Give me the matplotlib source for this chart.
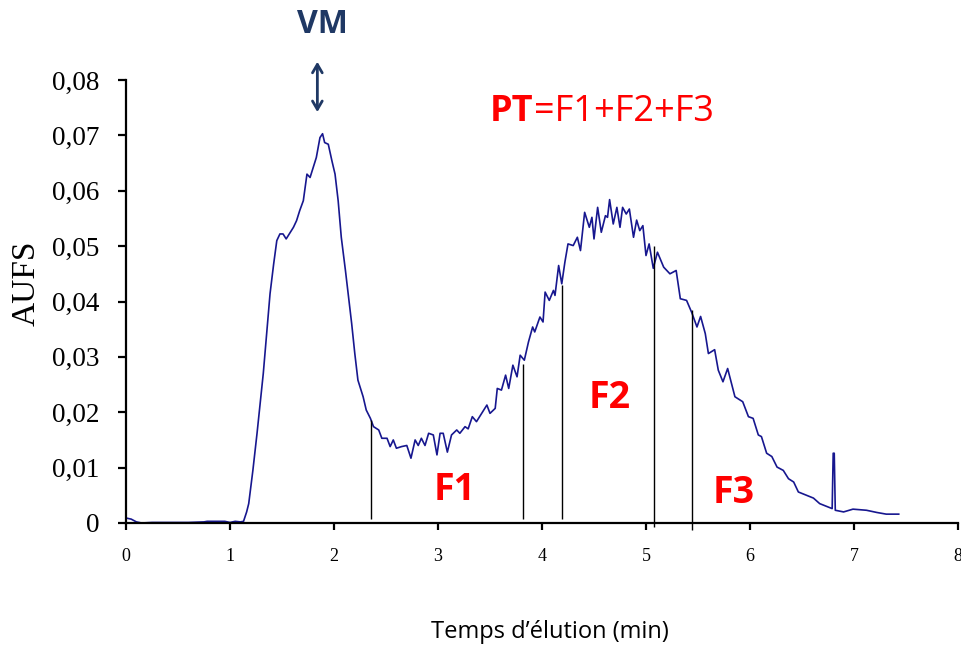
import matplotlib
matplotlib.use("Agg")
import matplotlib.pyplot as plt
from matplotlib.ticker import FixedLocator, FuncFormatter

# chromatogramme : temps (min) / absorbance (AUFS)
temps = [0.00, 0.05, 0.10, 0.15, 0.25, 0.40, 0.60, 0.75, 0.78, 0.95, 1.00, 1.05, 1.10, 1.13,
         1.16, 1.18, 1.22, 1.26, 1.29, 1.32, 1.35, 1.385, 1.42, 1.45, 1.48, 1.51, 1.54, 1.58,
         1.61, 1.64, 1.67, 1.705, 1.74, 1.77, 1.80, 1.83, 1.865, 1.89, 1.91, 1.945, 1.98, 2.01,
         2.04, 2.07, 2.11, 2.14, 2.17, 2.20, 2.23, 2.28, 2.31, 2.35, 2.38, 2.43, 2.46, 2.51,
         2.54, 2.57, 2.60, 2.65, 2.70, 2.74, 2.78, 2.81, 2.84, 2.875, 2.91, 2.955, 2.99, 3.02,
         3.05, 3.09, 3.13, 3.18, 3.21, 3.26, 3.29, 3.33, 3.37, 3.42, 3.47, 3.50, 3.55, 3.57,
         3.61, 3.65, 3.68, 3.72, 3.76, 3.79, 3.83, 3.87, 3.91, 3.93, 3.98, 4.01, 4.03, 4.07,
         4.11, 4.125, 4.16, 4.19, 4.22, 4.25, 4.30, 4.34, 4.37, 4.41, 4.455, 4.48, 4.50, 4.535,
         4.57, 4.61, 4.63, 4.65, 4.685, 4.72, 4.75, 4.775, 4.81, 4.84, 4.88, 4.91, 4.94, 4.97,
         5.00, 5.03, 5.07, 5.11, 5.17, 5.23, 5.29, 5.33, 5.39, 5.44, 5.49, 5.525, 5.57, 5.60,
         5.66, 5.695, 5.74, 5.785, 5.855, 5.93, 5.985, 6.03, 6.08, 6.11, 6.16, 6.21, 6.26, 6.32,
         6.37, 6.42, 6.465, 6.545, 6.61, 6.67, 6.75, 6.79, 6.80, 6.81, 6.82, 6.90, 6.99, 7.12,
         7.22, 7.31, 7.43]
aufs = [0.0009, 0.0007, 0.0002, 0.0000, 0.0001, 0.0001, 0.0001, 0.0002, 0.0003, 0.0003, 0.0001,
        0.0003, 0.0002, 0.0003, 0.0020, 0.0035, 0.0095, 0.0162, 0.0216, 0.0270, 0.0336, 0.0414,
        0.0468, 0.0510, 0.0522, 0.0522, 0.0513, 0.0525, 0.0534, 0.0546, 0.0564, 0.0582, 0.0630,
        0.0624, 0.0642, 0.0660, 0.0696, 0.0703, 0.0687, 0.0684, 0.0654, 0.0630, 0.0582, 0.0516,
        0.0456, 0.0408, 0.0360, 0.0306, 0.0258, 0.0228, 0.0204, 0.0189, 0.0174, 0.0168, 0.0153,
        0.0153, 0.0138, 0.0150, 0.0135, 0.0138, 0.0140, 0.0117, 0.0150, 0.0140, 0.0153, 0.0140,
        0.0162, 0.0159, 0.0123, 0.0162, 0.0162, 0.0128, 0.0159, 0.0168, 0.0162, 0.0174, 0.0170,
        0.0192, 0.0183, 0.0198, 0.0213, 0.0198, 0.0207, 0.0243, 0.0240, 0.0267, 0.0243, 0.0285,
        0.0264, 0.0303, 0.0294, 0.0327, 0.0354, 0.0345, 0.0372, 0.0363, 0.0417, 0.0402, 0.0420,
        0.0411, 0.0465, 0.0432, 0.0471, 0.0504, 0.0501, 0.0516, 0.0492, 0.0561, 0.0534, 0.0552,
        0.0513, 0.0570, 0.0525, 0.0555, 0.0552, 0.0584, 0.0540, 0.0570, 0.0534, 0.0570, 0.0558,
        0.0567, 0.0516, 0.0547, 0.0528, 0.0537, 0.0483, 0.0504, 0.0460, 0.0489, 0.0462, 0.0450,
        0.0456, 0.0405, 0.0402, 0.0380, 0.0354, 0.0373, 0.0342, 0.0306, 0.0313, 0.0276, 0.0255,
        0.0279, 0.0228, 0.0219, 0.0192, 0.0189, 0.0159, 0.0156, 0.0126, 0.0120, 0.0101, 0.0095,
        0.0080, 0.0074, 0.0056, 0.0050, 0.0045, 0.0035, 0.0029, 0.0026, 0.0126, 0.0126, 0.0023,
        0.0020, 0.0025, 0.0023, 0.0019, 0.0016, 0.0016]

# limites des fractions F1, F2, F3
coupe_t = [2.36, 3.82, 4.19, 5.08, 5.44]
coupe_haut = [0.0186, 0.0288, 0.0429, 0.0500, 0.0384]
coupe_bas = [0.0008, 0.0008, 0.0008, -0.0008, -0.0012]

fractions = ["F1", "F2", "F3"]
frac_x = [3.16, 4.65, 5.84]
frac_y = [0.0059, 0.0225, 0.0054]

y_ticks = [0, 0.01, 0.02, 0.03, 0.04, 0.05, 0.06, 0.07, 0.08]
x_ticks = [0, 1, 2, 3, 4, 5, 6, 7, 8]

rouge = "#ff0000"
marine = "#1f3864"
serif = ["Liberation Serif", "DejaVu Serif"]
sans = ["Open Sans", "DejaVu Sans"]

fig = plt.figure(figsize=(9.62, 6.46), dpi=100)
ax = fig.add_axes([126 / 962, 1 - 523 / 646, 832 / 962, 443 / 646])

ax.plot(temps, aufs, color="#17178f", lw=1.2)
ax.vlines(coupe_t, coupe_bas, coupe_haut, color="black", lw=1.0, clip_on=False)

ax.set_xlim(0, 8)
ax.set_ylim(0, 0.08)
for s in ["top", "right"]:
    ax.spines[s].set_visible(False)
for s in ["left", "bottom"]:
    ax.spines[s].set_linewidth(1.6)

ax.xaxis.set_major_locator(FixedLocator(x_ticks))
ax.yaxis.set_major_locator(FixedLocator(y_ticks))
ax.yaxis.set_major_formatter(FuncFormatter(
    lambda v, p: "0" if v == 0 else ("%.2f" % v).replace(".", ",")))
ax.tick_params(axis="y", direction="out", length=6, width=1.6, pad=13, labelsize=19.5)
ax.tick_params(axis="x", direction="out", length=5, width=1.6, pad=13, labelsize=13)
for lab in ax.get_xticklabels() + ax.get_yticklabels():
    lab.set_family(serif)

# annotations
for nom, x, y in zip(fractions, frac_x, frac_y):
    ax.text(x, y, nom, color=rouge, fontsize=27, fontweight="bold", family=sans,
            ha="center", va="center")

pt = ax.text(3.5, 0.0742, "PT", color=rouge, fontsize=26, fontweight="bold",
             family=sans, ha="left", va="center")
ax.annotate("=F1+F2+F3", xy=(1, 0), xycoords=pt, va="bottom", ha="left",
            color=rouge, fontsize=26, family=sans)

ax.text(1.885, 0.0901, "VM", color=marine, fontsize=23, fontweight="bold",
        family=sans, ha="center", va="center", clip_on=False)
ax.annotate("", xy=(1.84, 0.0833), xytext=(1.84, 0.0742),
            arrowprops=dict(arrowstyle="<->,head_length=0.6,head_width=0.35",
                            color=marine, lw=2.0, shrinkA=0, shrinkB=0),
            annotation_clip=False)

fig.text(26 / 962, 1 - 283 / 646, "AUFS", rotation=90, fontsize=24,
         family=serif, ha="center", va="center")
fig.text(550 / 962, 1 - 632 / 646, "Temps d\u2019élution (min)", fontsize=17,
         family=sans, ha="center", va="center")

fig.savefig("out.png", dpi=100)
